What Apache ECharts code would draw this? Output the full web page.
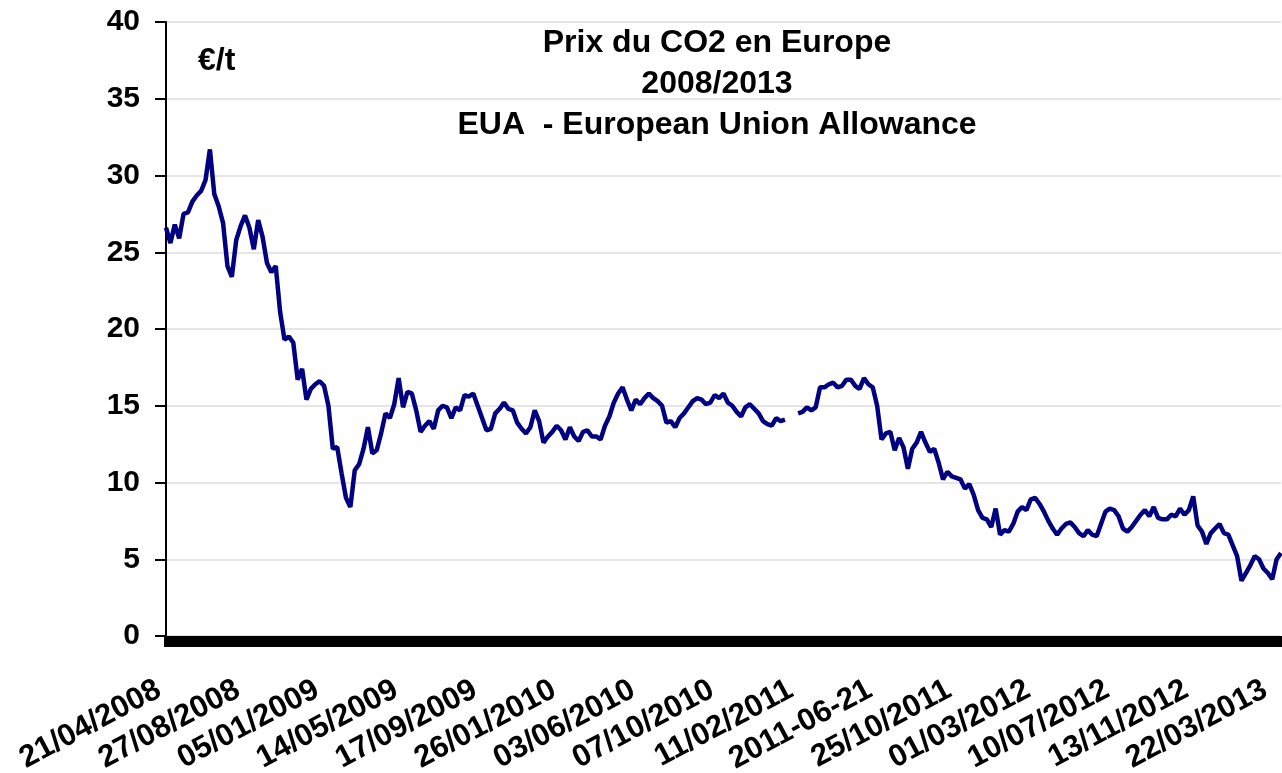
<!DOCTYPE html>
<html>
<head>
<meta charset="utf-8">
<title>Prix du CO2 en Europe</title>
<script src="https://cdn.jsdelivr.net/npm/echarts@6/dist/echarts.min.js"></script>
<style>
  html, body { margin: 0; padding: 0; background: #fff; }
  #chart { width: 1282px; height: 773px; }
</style>
</head>
<body>
<div id="chart"></div>
<script>
// Dates affichées sous l'axe (une toutes les 18 semaines)
const dateLabels = [
    '21/04/2008', '27/08/2008', '05/01/2009', '14/05/2009', '17/09/2009',
    '26/01/2010', '03/06/2010', '07/10/2010', '11/02/2011', '2011-06-21',
    '25/10/2011', '01/03/2012', '10/07/2012', '13/11/2012', '22/03/2013'
];
const weeksPerLabel = 18;

// Prix EUA hebdomadaire en €/t (null = pas de cotation)
const prices = [
    26.6, 25.6, 26.8, 25.9, 27.5, 27.6, 28.3, 28.7, 29.0, 29.7,
    31.7, 28.8, 28.0, 26.9, 24.1, 23.4, 25.8, 26.7, 27.4, 26.6,
    25.2, 27.1, 26.0, 24.3, 23.7, 24.1, 21.1, 19.3, 19.5, 19.1,
    16.7, 17.4, 15.4, 16.1, 16.4, 16.6, 16.3, 15.0, 12.2, 12.3,
    10.6, 9.0, 8.4, 10.8, 11.2, 12.2, 13.6, 11.9, 12.1, 13.2,
    14.5, 14.2, 15.1, 16.8, 14.9, 15.9, 15.8, 14.7, 13.3, 13.7,
    14.0, 13.5, 14.7, 15.0, 14.9, 14.2, 14.9, 14.7, 15.7, 15.6,
    15.8, 15.0, 14.2, 13.4, 13.5, 14.5, 14.8, 15.2, 14.8, 14.7,
    13.9, 13.5, 13.2, 13.6, 14.7, 14.0, 12.6, 13.0, 13.3, 13.7,
    13.4, 12.8, 13.6, 13.0, 12.7, 13.3, 13.4, 13.0, 13.0, 12.8,
    13.7, 14.3, 15.2, 15.8, 16.2, 15.4, 14.7, 15.4, 15.1, 15.5,
    15.8, 15.5, 15.3, 15.0, 13.9, 14.0, 13.6, 14.2, 14.5, 14.9,
    15.3, 15.5, 15.4, 15.1, 15.2, 15.7, 15.5, 15.8, 15.2, 15.0,
    14.6, 14.3, 14.9, 15.1, 14.8, 14.5, 14.0, 13.8, 13.7, 14.2,
    14.0, 14.1, null, null, 14.5, 14.6, 14.9, 14.7, 14.9, 16.2,
    16.2, 16.4, 16.5, 16.2, 16.3, 16.7, 16.7, 16.3, 16.1, 16.8,
    16.4, 16.2, 15.0, 12.8, 13.2, 13.3, 12.1, 12.9, 12.3, 10.9,
    12.2, 12.6, 13.3, 12.6, 12.0, 12.2, 11.3, 10.2, 10.7, 10.4,
    10.3, 10.2, 9.6, 9.9, 9.2, 8.2, 7.7, 7.6, 7.1, 8.3,
    6.6, 6.9, 6.8, 7.3, 8.1, 8.4, 8.2, 8.9, 9.0, 8.6,
    8.1, 7.5, 7.0, 6.6, 7.0, 7.3, 7.4, 7.1, 6.7, 6.5,
    6.9, 6.6, 6.5, 7.3, 8.1, 8.3, 8.2, 7.8, 7.0, 6.8,
    7.1, 7.5, 7.9, 8.2, 7.8, 8.4, 7.7, 7.6, 7.6, 7.9,
    7.8, 8.3, 7.9, 8.2, 9.1, 7.2, 6.8, 6.0, 6.7, 7.0,
    7.3, 6.7, 6.6, 5.9, 5.2, 3.6, 4.1, 4.6, 5.2, 5.0,
    4.4, 4.1, 3.7, 5.0, 5.4
];

const FONT = "'Liberation Sans', Arial, sans-serif";

// une catégorie par semaine, le libellé de date tombe toutes les 18 semaines
const weeks = prices.map((p, i) =>
    i % weeksPerLabel === 0 ? dateLabels[i / weeksPerLabel] : 'S' + i);

const chart = echarts.init(document.getElementById('chart'));

chart.setOption({
    animation: false,
    backgroundColor: '#ffffff',
    title: [{
        text: 'Prix du CO2 en Europe\n2008/2013\nEUA  - European Union Allowance',
        left: 712,
        top: 18,
        textAlign: 'center',
        textStyle: {
            fontFamily: FONT,
            fontSize: 32,
            fontWeight: 'bold',
            color: '#000',
            lineHeight: 41
        }
    }, {
        text: '€/t',
        left: 193,
        top: 40,
        textStyle: {
            fontFamily: FONT,
            fontSize: 32,
            fontWeight: 'bold',
            color: '#000'
        }
    }],
    grid: {
        left: 166,
        right: 1,
        top: 22,
        bottom: 137,
        containLabel: false,
        outerBoundsMode: 'none'
    },
    xAxis: {
        type: 'category',
        data: weeks,
        boundaryGap: false,
        axisLine: {
            lineStyle: { color: '#666', width: 1 }
        },
        axisTick: {
            show: true,
            interval: 0,
            length: 11,
            lineStyle: { color: '#000', width: 5 }
        },
        axisLabel: {
            interval: weeksPerLabel - 1,
            rotate: 28,
            margin: 48,
            padding: [0, 8, 0, 0],
            fontFamily: FONT,
            fontSize: 31,
            fontWeight: 'bold',
            color: '#000'
        },
        splitLine: { show: false }
    },
    yAxis: {
        type: 'value',
        min: 0,
        max: 40,
        interval: 5,
        axisLine: {
            show: true,
            lineStyle: { color: '#000', width: 2 }
        },
        axisTick: {
            show: true,
            length: 11,
            lineStyle: { color: '#000', width: 2 }
        },
        axisLabel: {
            margin: 26,
            fontFamily: FONT,
            fontSize: 30,
            fontWeight: 'bold',
            color: '#000'
        },
        splitLine: {
            lineStyle: { color: '#dddddd', width: 1.5 }
        }
    },
    series: [{
        type: 'line',
        data: prices,
        showSymbol: false,
        connectNulls: false,
        lineStyle: { color: '#000080', width: 4.5 },
        itemStyle: { color: '#000080' }
    }]
});
</script>
</body>
</html>
